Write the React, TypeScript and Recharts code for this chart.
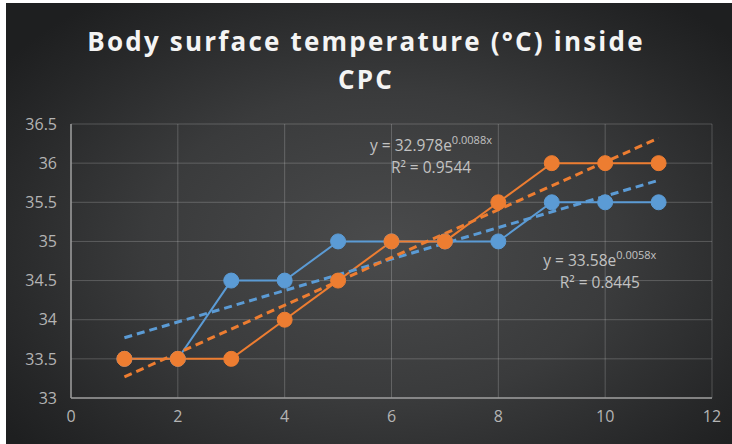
import {
  ComposedChart,
  Line,
  XAxis,
  YAxis,
  CartesianGrid,
  ReferenceDot,
} from "recharts";

const days = [1, 2, 3, 4, 5, 6, 7, 8, 9, 10, 11];
const blueTemps = [33.5, 33.5, 34.5, 34.5, 35, 35, 35, 35, 35.5, 35.5, 35.5];
const orangeTemps = [33.5, 33.5, 33.5, 34, 34.5, 35, 35, 35.5, 36, 36, 36];

// trendline ends
const trendX = [1, 11];
const blueTrend = [33.77, 35.78];
const orangeTrend = [33.27, 36.32];

const xTicks = [0, 2, 4, 6, 8, 10, 12];
const yTicks = [33, 33.5, 34, 34.5, 35, 35.5, 36, 36.5];

const BLUE = "#5b9bd5";
const ORANGE = "#ed7d31";

const blueData = days.map((x, i) => ({ x, y: blueTemps[i] }));
const orangeData = days.map((x, i) => ({ x, y: orangeTemps[i] }));
const blueTrendData = trendX.map((x, i) => ({ x, y: blueTrend[i] }));
const orangeTrendData = trendX.map((x, i) => ({ x, y: orangeTrend[i] }));

const fontFamily = "'Open Sans', 'Noto Sans', sans-serif";
const tickStyle = { fill: "#b4b4b4", fontSize: 16, fontFamily };

function Equation({ viewBox, base, exp, r2 }: any) {
  const cx = viewBox.x;
  const cy = viewBox.y;
  return (
    <text fill="#c2c2c2" fontSize={15.5} fontFamily={fontFamily} textAnchor="middle">
      <tspan x={cx} y={cy}>
        {"y = " + base + "e"}
        <tspan fontSize={11} dy={-7}>
          {exp}
        </tspan>
      </tspan>
      <tspan x={cx} y={cy + 22}>
        {"R² = " + r2}
      </tspan>
    </text>
  );
}

export default function App() {
  return (
    <div style={{ position: "absolute", left: 0, top: 0, width: 732, height: 444, background: "#fff" }}>
      <div
        style={{
          position: "absolute",
          left: 6,
          top: 3,
          width: 726,
          height: 441,
          background:
            "radial-gradient(ellipse 65% 70% at 52% 55%, #4a4b4c 0%, #3a3b3c 50%, #262728 85%, #1e1f20 100%)",
        }}
      />
      <div
        style={{
          position: "absolute",
          left: 0,
          top: 22,
          width: 732,
          textAlign: "center",
          color: "#f4f4f4",
          fontFamily,
          fontWeight: 700,
          fontSize: 26,
          lineHeight: "38px",
          letterSpacing: 2.2,
        }}
      >
        Body surface temperature (°C) inside
        <br />
        CPC
      </div>
      <div style={{ position: "absolute", left: 0, top: 0 }}>
        <ComposedChart
          width={732}
          height={444}
          margin={{ top: 124, right: 20, bottom: 16, left: 11 }}
        >
          <CartesianGrid stroke="rgba(255,255,255,0.2)" strokeWidth={1} />
          <XAxis
            type="number"
            dataKey="x"
            domain={[0, 12]}
            ticks={xTicks}
            tick={tickStyle}
            tickLine={false}
            tickSize={0}
            tickMargin={13}
            axisLine={{ stroke: "#9a9a9a", strokeWidth: 1.5 }}
            height={30}
          />
          <YAxis
            type="number"
            domain={[33, 36.5]}
            ticks={yTicks}
            tick={tickStyle}
            tickLine={false}
            tickSize={0}
            tickMargin={14}
            axisLine={{ stroke: "#9a9a9a", strokeWidth: 1.5 }}
            width={60}
            interval={0}
          />
          <Line
            data={blueData}
            dataKey="y"
            stroke={BLUE}
            strokeWidth={2}
            dot={{ r: 7.5, fill: BLUE, stroke: BLUE, strokeWidth: 1 }}
            isAnimationActive={false}
          />
          <Line
            data={orangeData}
            dataKey="y"
            stroke={ORANGE}
            strokeWidth={2}
            dot={{ r: 7.5, fill: ORANGE, stroke: ORANGE, strokeWidth: 1 }}
            isAnimationActive={false}
          />
          <Line
            data={blueTrendData}
            dataKey="y"
            stroke={BLUE}
            strokeWidth={3}
            strokeDasharray="8 5"
            dot={false}
            isAnimationActive={false}
          />
          <Line
            data={orangeTrendData}
            dataKey="y"
            stroke={ORANGE}
            strokeWidth={3}
            strokeDasharray="8 5"
            dot={false}
            isAnimationActive={false}
          />
          <ReferenceDot
            x={6.74}
            y={36.16}
            r={0}
            fill="none"
            stroke="none"
            label={(p: any) => <Equation {...p} base="32.978" exp="0.0088x" r2="0.9544" />}
          />
          <ReferenceDot
            x={9.9}
            y={34.69}
            r={0}
            fill="none"
            stroke="none"
            label={(p: any) => <Equation {...p} base="33.58" exp="0.0058x" r2="0.8445" />}
          />
        </ComposedChart>
      </div>
    </div>
  );
}
